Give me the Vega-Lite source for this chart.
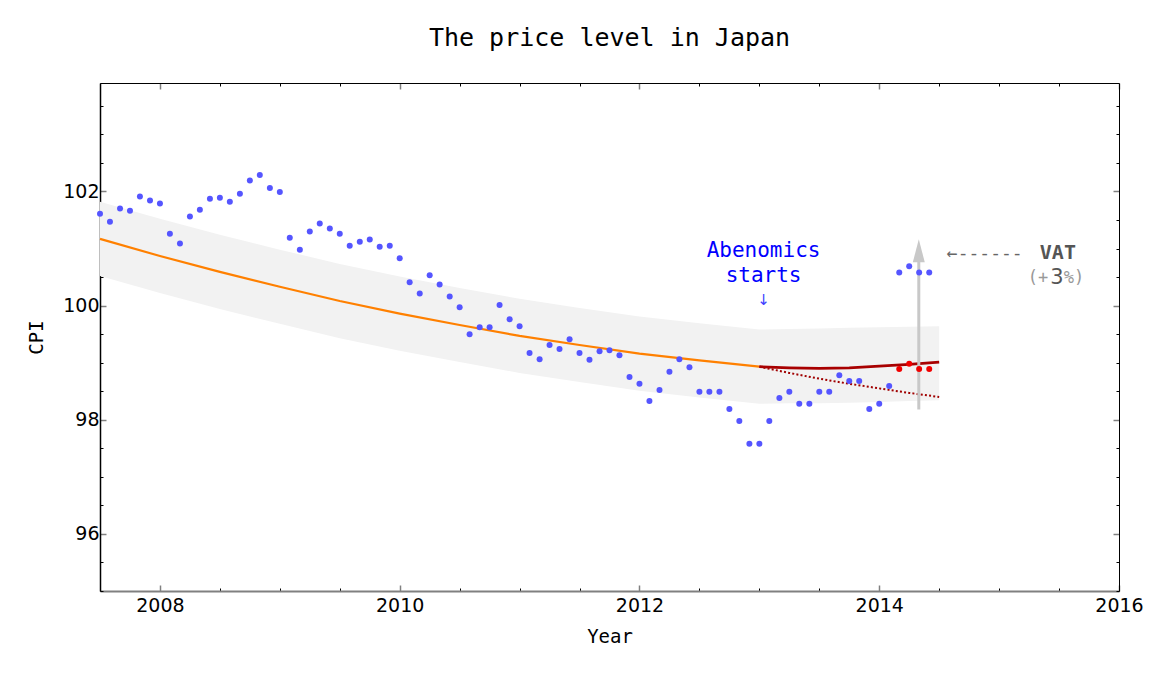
{
  "$schema": "https://vega.github.io/schema/vega-lite/v6.json",
  "width": 1019,
  "height": 508,
  "autosize": {"type": "none"},
  "padding": {"left": 100, "top": 83, "right": 33, "bottom": 84},
  "background": "white",
  "config": {"view": {"stroke": null}, "axis": {"grid": false}},
  "title": {"text": "The price level in Japan", "font": "DejaVu Sans Mono", "fontSize": 25, "fontWeight": "normal", "color": "black", "offset": 31, "anchor": "middle"},
  "datasets": {
    "band": [
      {"t": 2007.5, "lo": 100.52, "hi": 101.82},
      {"t": 2008.0, "lo": 100.22, "hi": 101.52},
      {"t": 2008.5, "lo": 99.94, "hi": 101.24},
      {"t": 2009.0, "lo": 99.68, "hi": 100.98},
      {"t": 2009.5, "lo": 99.43, "hi": 100.73},
      {"t": 2010.0, "lo": 99.21, "hi": 100.51},
      {"t": 2010.5, "lo": 99.01, "hi": 100.31},
      {"t": 2011.0, "lo": 98.82, "hi": 100.12},
      {"t": 2011.5, "lo": 98.66, "hi": 99.96},
      {"t": 2012.0, "lo": 98.51, "hi": 99.81},
      {"t": 2012.5, "lo": 98.39, "hi": 99.69},
      {"t": 2013.0, "lo": 98.28, "hi": 99.58},
      {"t": 2013.25, "lo": 98.29, "hi": 99.59},
      {"t": 2013.5, "lo": 98.29, "hi": 99.6},
      {"t": 2013.75, "lo": 98.3, "hi": 99.61},
      {"t": 2014.0, "lo": 98.31, "hi": 99.62},
      {"t": 2014.25, "lo": 98.33, "hi": 99.63},
      {"t": 2014.5, "lo": 98.34, "hi": 99.64}
    ],
    "trend": [
      {"t": 2007.5, "v": 101.17},
      {"t": 2008.0, "v": 100.87},
      {"t": 2008.5, "v": 100.59},
      {"t": 2009.0, "v": 100.33},
      {"t": 2009.5, "v": 100.08},
      {"t": 2010.0, "v": 99.86},
      {"t": 2010.5, "v": 99.66},
      {"t": 2011.0, "v": 99.47},
      {"t": 2011.5, "v": 99.31},
      {"t": 2012.0, "v": 99.16},
      {"t": 2012.5, "v": 99.04},
      {"t": 2013.0, "v": 98.93}
    ],
    "abe": [
      {"t": 2013.0, "v": 98.93},
      {"t": 2013.25, "v": 98.91},
      {"t": 2013.5, "v": 98.9},
      {"t": 2013.75, "v": 98.91},
      {"t": 2014.0, "v": 98.94},
      {"t": 2014.25, "v": 98.97},
      {"t": 2014.5, "v": 99.01}
    ],
    "pre": [
      {"t": 2013.0, "v": 98.93},
      {"t": 2013.25, "v": 98.82},
      {"t": 2013.5, "v": 98.72},
      {"t": 2013.75, "v": 98.63},
      {"t": 2014.0, "v": 98.55},
      {"t": 2014.25, "v": 98.47},
      {"t": 2014.5, "v": 98.4}
    ],
    "vat": [
      {"t": 2014.33, "base": 98.18, "top": 100.8, "tip": 100.96}
    ],
    "cpi": [
      {"t": 2007.5, "v": 101.61},
      {"t": 2007.583, "v": 101.47},
      {"t": 2007.667, "v": 101.7},
      {"t": 2007.75, "v": 101.66},
      {"t": 2007.833, "v": 101.91},
      {"t": 2007.917, "v": 101.84},
      {"t": 2008.0, "v": 101.79},
      {"t": 2008.083, "v": 101.26},
      {"t": 2008.167, "v": 101.09},
      {"t": 2008.25, "v": 101.56},
      {"t": 2008.333, "v": 101.68},
      {"t": 2008.417, "v": 101.87},
      {"t": 2008.5, "v": 101.89},
      {"t": 2008.583, "v": 101.82},
      {"t": 2008.667, "v": 101.96},
      {"t": 2008.75, "v": 102.19},
      {"t": 2008.833, "v": 102.29},
      {"t": 2008.917, "v": 102.06},
      {"t": 2009.0, "v": 101.99},
      {"t": 2009.083, "v": 101.19},
      {"t": 2009.167, "v": 100.98},
      {"t": 2009.25, "v": 101.3},
      {"t": 2009.333, "v": 101.44},
      {"t": 2009.417, "v": 101.35},
      {"t": 2009.5, "v": 101.26},
      {"t": 2009.583, "v": 101.05},
      {"t": 2009.667, "v": 101.12},
      {"t": 2009.75, "v": 101.16},
      {"t": 2009.833, "v": 101.03},
      {"t": 2009.917, "v": 101.05},
      {"t": 2010.0, "v": 100.83},
      {"t": 2010.083, "v": 100.41},
      {"t": 2010.167, "v": 100.21},
      {"t": 2010.25, "v": 100.53},
      {"t": 2010.333, "v": 100.37},
      {"t": 2010.417, "v": 100.16},
      {"t": 2010.5, "v": 99.97},
      {"t": 2010.583, "v": 99.5},
      {"t": 2010.667, "v": 99.62},
      {"t": 2010.75, "v": 99.62},
      {"t": 2010.833, "v": 100.01},
      {"t": 2010.917, "v": 99.76},
      {"t": 2011.0, "v": 99.64},
      {"t": 2011.083, "v": 99.17},
      {"t": 2011.167, "v": 99.06},
      {"t": 2011.25, "v": 99.31},
      {"t": 2011.333, "v": 99.24},
      {"t": 2011.417, "v": 99.41},
      {"t": 2011.5, "v": 99.17},
      {"t": 2011.583, "v": 99.05},
      {"t": 2011.667, "v": 99.2},
      {"t": 2011.75, "v": 99.22},
      {"t": 2011.833, "v": 99.13},
      {"t": 2011.917, "v": 98.75},
      {"t": 2012.0, "v": 98.63},
      {"t": 2012.083, "v": 98.33},
      {"t": 2012.167, "v": 98.52},
      {"t": 2012.25, "v": 98.84},
      {"t": 2012.333, "v": 99.06},
      {"t": 2012.417, "v": 98.92},
      {"t": 2012.5, "v": 98.49},
      {"t": 2012.583, "v": 98.49},
      {"t": 2012.667, "v": 98.49},
      {"t": 2012.75, "v": 98.19},
      {"t": 2012.833, "v": 97.98},
      {"t": 2012.917, "v": 97.58},
      {"t": 2013.0, "v": 97.58},
      {"t": 2013.083, "v": 97.98},
      {"t": 2013.167, "v": 98.38},
      {"t": 2013.25, "v": 98.49},
      {"t": 2013.333, "v": 98.28},
      {"t": 2013.417, "v": 98.28},
      {"t": 2013.5, "v": 98.49},
      {"t": 2013.583, "v": 98.49},
      {"t": 2013.667, "v": 98.78},
      {"t": 2013.75, "v": 98.68},
      {"t": 2013.833, "v": 98.68},
      {"t": 2013.917, "v": 98.19},
      {"t": 2014.0, "v": 98.28},
      {"t": 2014.083, "v": 98.59},
      {"t": 2014.167, "v": 100.58},
      {"t": 2014.25, "v": 100.69},
      {"t": 2014.333, "v": 100.58},
      {"t": 2014.417, "v": 100.58}
    ],
    "adj": [
      {"t": 2014.167, "v": 98.89},
      {"t": 2014.25, "v": 98.98},
      {"t": 2014.333, "v": 98.89},
      {"t": 2014.417, "v": 98.89}
    ],
    "ann": [
      {"kind": "abe", "x": 2013.035, "y": 100.95, "label": "Abenomics"},
      {"kind": "abe", "x": 2013.035, "y": 100.52, "label": "starts"},
      {"kind": "abearrow", "x": 2013.035, "y": 100.1, "label": "↓"},
      {"kind": "vatarrow", "x": 2014.88, "y": 100.9, "label": "←------"},
      {"kind": "vat", "x": 2015.49, "y": 100.92, "label": "VAT"},
      {"kind": "pctl", "x": 2015.41, "y": 100.48, "label": "(+"},
      {"kind": "pct3", "x": 2015.482, "y": 100.48, "label": "3"},
      {"kind": "pctr", "x": 2015.54, "y": 100.48, "label": "%)"}
    ]
  },
  "layer": [
    {
      "data": {"name": "band"},
      "mark": {"type": "area", "color": "#f2f2f2", "opacity": 1},
      "encoding": {
        "x": {"field": "t", "type": "quantitative", "scale": {"domain": [2007.5, 2016], "nice": false, "zero": false},
          "axis": {"orient": "bottom", "values": [2007.5, 2008, 2008.5, 2009, 2009.5, 2010, 2010.5, 2011, 2011.5, 2012, 2012.5, 2013, 2013.5, 2014, 2014.5, 2015, 2015.5, 2016],
            "labelExpr": "datum.value % 2 == 0 ? format(datum.value, 'd') : ''",
            "labelFont": "DejaVu Sans", "labelFontSize": 19, "labelColor": "black", "labelPadding": 11, "labelFlush": false, "labelOverlap": false,
            "title": "Year", "titleFont": "DejaVu Sans Mono", "titleFontSize": 19, "titleFontWeight": "normal", "titleColor": "black", "titlePadding": 9,
            "domainColor": "#808080", "domainWidth": 2,
            "tickSize": {"condition": {"test": "datum.value % 2 == 0", "value": -6}, "value": -3},
            "tickColor": {"condition": {"test": "datum.value % 2 == 0", "value": "#808080"}, "value": "black"},
            "tickWidth": {"condition": {"test": "datum.value % 2 == 0", "value": 1.5}, "value": 1}}},
        "y": {"field": "lo", "type": "quantitative", "scale": {"domain": [95, 103.9], "nice": false, "zero": false},
          "axis": {"orient": "left", "values": [95, 95.5, 96, 96.5, 97, 97.5, 98, 98.5, 99, 99.5, 100, 100.5, 101, 101.5, 102, 102.5, 103, 103.5],
            "labelExpr": "datum.value % 2 == 0 ? format(datum.value, 'd') : ''",
            "labelFont": "DejaVu Sans", "labelFontSize": 19, "labelColor": "black", "labelPadding": 7, "labelFlush": false, "labelOverlap": false,
            "title": "CPI", "titleFont": "DejaVu Sans Mono", "titleFontSize": 19, "titleFontWeight": "normal", "titleColor": "black", "titlePadding": 16,
            "domainColor": "black", "domainWidth": 1.5,
            "tickSize": {"condition": {"test": "datum.value % 2 == 0", "value": -6}, "value": -3},
            "tickColor": {"condition": {"test": "datum.value % 2 == 0", "value": "#808080"}, "value": "black"},
            "tickWidth": {"condition": {"test": "datum.value % 2 == 0", "value": 1.5}, "value": 1}}},
        "y2": {"field": "hi"}
      }
    },
    {
      "data": {"name": "trend"},
      "mark": {"type": "line", "color": "#ff8000", "strokeWidth": 2.2},
      "encoding": {
        "x": {"field": "t", "type": "quantitative", "scale": {"domain": [2007.5, 2016], "nice": false, "zero": false}, "axis": null},
        "y": {"field": "v", "type": "quantitative", "scale": {"domain": [95, 103.9], "nice": false, "zero": false}, "axis": null}
      }
    },
    {
      "data": {"name": "pre"},
      "mark": {"type": "line", "color": "#a00000", "strokeWidth": 2, "strokeDash": [2, 2.2]},
      "encoding": {
        "x": {"field": "t", "type": "quantitative", "scale": {"domain": [2007.5, 2016], "nice": false, "zero": false}, "axis": null},
        "y": {"field": "v", "type": "quantitative", "scale": {"domain": [95, 103.9], "nice": false, "zero": false}, "axis": null}
      }
    },
    {
      "data": {"name": "abe"},
      "mark": {"type": "line", "color": "#a80000", "strokeWidth": 2.8},
      "encoding": {
        "x": {"field": "t", "type": "quantitative", "scale": {"domain": [2007.5, 2016], "nice": false, "zero": false}, "axis": null},
        "y": {"field": "v", "type": "quantitative", "scale": {"domain": [95, 103.9], "nice": false, "zero": false}, "axis": null}
      }
    },
    {
      "data": {"name": "vat"},
      "mark": {"type": "rule", "color": "#c8c8c8", "strokeWidth": 3},
      "encoding": {
        "x": {"field": "t", "type": "quantitative", "scale": {"domain": [2007.5, 2016], "nice": false, "zero": false},
          "axis": {"orient": "top", "values": [2007.5, 2008, 2008.5, 2009, 2009.5, 2010, 2010.5, 2011, 2011.5, 2012, 2012.5, 2013, 2013.5, 2014, 2014.5, 2015, 2015.5, 2016],
            "labels": false, "title": null, "domainColor": "black", "domainWidth": 1,
            "tickSize": {"condition": {"test": "datum.value % 2 == 0", "value": -6}, "value": -3},
            "tickColor": {"condition": {"test": "datum.value % 2 == 0", "value": "#808080"}, "value": "black"},
            "tickWidth": {"condition": {"test": "datum.value % 2 == 0", "value": 1.5}, "value": 1}}},
        "y": {"field": "base", "type": "quantitative", "scale": {"domain": [95, 103.9], "nice": false, "zero": false},
          "axis": {"orient": "right", "values": [95, 95.5, 96, 96.5, 97, 97.5, 98, 98.5, 99, 99.5, 100, 100.5, 101, 101.5, 102, 102.5, 103, 103.5],
            "labels": false, "title": null, "domainColor": "black", "domainWidth": 1,
            "tickSize": {"condition": {"test": "datum.value % 2 == 0", "value": -6}, "value": -3},
            "tickColor": {"condition": {"test": "datum.value % 2 == 0", "value": "#808080"}, "value": "black"},
            "tickWidth": {"condition": {"test": "datum.value % 2 == 0", "value": 1.5}, "value": 1}}},
        "y2": {"field": "top"}
      }
    },
    {
      "data": {"name": "vat"},
      "mark": {"type": "point", "shape": "M0,-1L0.52,1L-0.52,1Z", "size": 529, "filled": true, "color": "#c8c8c8", "opacity": 1},
      "encoding": {
        "x": {"field": "t", "type": "quantitative", "scale": {"domain": [2007.5, 2016], "nice": false, "zero": false}, "axis": null},
        "y": {"field": "tip", "type": "quantitative", "scale": {"domain": [95, 103.9], "nice": false, "zero": false}, "axis": null}
      }
    },
    {
      "data": {"name": "cpi"},
      "mark": {"type": "point", "shape": "circle", "size": 36, "filled": true, "color": "#5555ff", "opacity": 1},
      "encoding": {
        "x": {"field": "t", "type": "quantitative", "scale": {"domain": [2007.5, 2016], "nice": false, "zero": false}, "axis": null},
        "y": {"field": "v", "type": "quantitative", "scale": {"domain": [95, 103.9], "nice": false, "zero": false}, "axis": null}
      }
    },
    {
      "data": {"name": "adj"},
      "mark": {"type": "point", "shape": "circle", "size": 36, "filled": true, "color": "#f00000", "opacity": 1},
      "encoding": {
        "x": {"field": "t", "type": "quantitative", "scale": {"domain": [2007.5, 2016], "nice": false, "zero": false}, "axis": null},
        "y": {"field": "v", "type": "quantitative", "scale": {"domain": [95, 103.9], "nice": false, "zero": false}, "axis": null}
      }
    },
    {
      "data": {"name": "ann"},
      "transform": [{"filter": "datum.kind == 'abe'"}],
      "mark": {"type": "text", "font": "DejaVu Sans Mono", "fontSize": 21, "color": "#0000ff", "align": "center", "baseline": "middle"},
      "encoding": {
        "x": {"field": "x", "type": "quantitative", "scale": {"domain": [2007.5, 2016], "nice": false, "zero": false}, "axis": null},
        "y": {"field": "y", "type": "quantitative", "scale": {"domain": [95, 103.9], "nice": false, "zero": false}, "axis": null},
        "text": {"field": "label"}
      }
    },
    {
      "data": {"name": "ann"},
      "transform": [{"filter": "datum.kind == 'abearrow'"}],
      "mark": {"type": "text", "font": "DejaVu Sans", "fontSize": 15, "color": "#4040ff", "align": "center", "baseline": "middle"},
      "encoding": {
        "x": {"field": "x", "type": "quantitative", "scale": {"domain": [2007.5, 2016], "nice": false, "zero": false}, "axis": null},
        "y": {"field": "y", "type": "quantitative", "scale": {"domain": [95, 103.9], "nice": false, "zero": false}, "axis": null},
        "text": {"field": "label"}
      }
    },
    {
      "data": {"name": "ann"},
      "transform": [{"filter": "datum.kind == 'vatarrow'"}],
      "mark": {"type": "text", "font": "DejaVu Sans Mono", "fontSize": 18, "color": "#666666", "align": "center", "baseline": "middle"},
      "encoding": {
        "x": {"field": "x", "type": "quantitative", "scale": {"domain": [2007.5, 2016], "nice": false, "zero": false}, "axis": null},
        "y": {"field": "y", "type": "quantitative", "scale": {"domain": [95, 103.9], "nice": false, "zero": false}, "axis": null},
        "text": {"field": "label"}
      }
    },
    {
      "data": {"name": "ann"},
      "transform": [{"filter": "datum.kind == 'vat'"}],
      "mark": {"type": "text", "font": "DejaVu Sans Mono", "fontSize": 20, "fontWeight": "bold", "color": "#555555", "align": "center", "baseline": "middle"},
      "encoding": {
        "x": {"field": "x", "type": "quantitative", "scale": {"domain": [2007.5, 2016], "nice": false, "zero": false}, "axis": null},
        "y": {"field": "y", "type": "quantitative", "scale": {"domain": [95, 103.9], "nice": false, "zero": false}, "axis": null},
        "text": {"field": "label"}
      }
    },
    {
      "data": {"name": "ann"},
      "transform": [{"filter": "datum.kind == 'pctl'"}],
      "mark": {"type": "text", "font": "DejaVu Sans Mono", "fontSize": 17, "color": "#999999", "align": "right", "baseline": "middle"},
      "encoding": {
        "x": {"field": "x", "type": "quantitative", "scale": {"domain": [2007.5, 2016], "nice": false, "zero": false}, "axis": null},
        "y": {"field": "y", "type": "quantitative", "scale": {"domain": [95, 103.9], "nice": false, "zero": false}, "axis": null},
        "text": {"field": "label"}
      }
    },
    {
      "data": {"name": "ann"},
      "transform": [{"filter": "datum.kind == 'pct3'"}],
      "mark": {"type": "text", "font": "DejaVu Sans", "fontSize": 21, "color": "#555555", "align": "center", "baseline": "middle"},
      "encoding": {
        "x": {"field": "x", "type": "quantitative", "scale": {"domain": [2007.5, 2016], "nice": false, "zero": false}, "axis": null},
        "y": {"field": "y", "type": "quantitative", "scale": {"domain": [95, 103.9], "nice": false, "zero": false}, "axis": null},
        "text": {"field": "label"}
      }
    },
    {
      "data": {"name": "ann"},
      "transform": [{"filter": "datum.kind == 'pctr'"}],
      "mark": {"type": "text", "font": "DejaVu Sans Mono", "fontSize": 17, "color": "#999999", "align": "left", "baseline": "middle"},
      "encoding": {
        "x": {"field": "x", "type": "quantitative", "scale": {"domain": [2007.5, 2016], "nice": false, "zero": false}, "axis": null},
        "y": {"field": "y", "type": "quantitative", "scale": {"domain": [95, 103.9], "nice": false, "zero": false}, "axis": null},
        "text": {"field": "label"}
      }
    }
  ],
  "resolve": {"axis": {"x": "independent", "y": "independent"}}
}
